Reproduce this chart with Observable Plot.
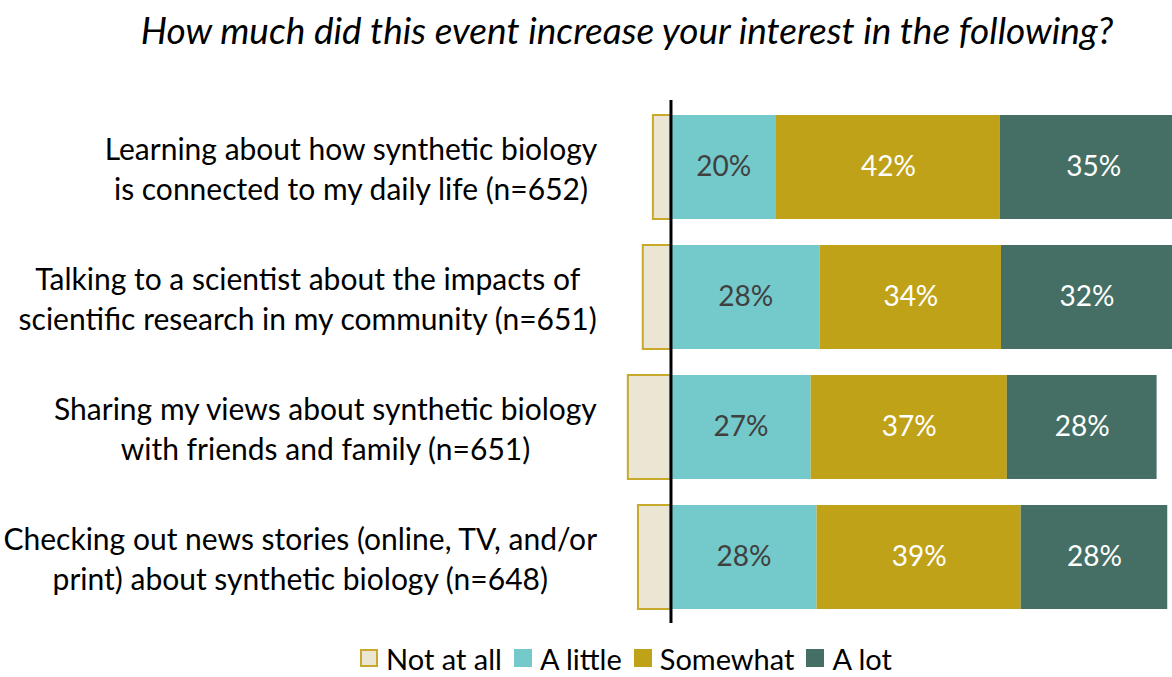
<!DOCTYPE html>
<html>
<head>
<meta charset="utf-8">
<script src="https://cdn.jsdelivr.net/npm/d3@7"></script>
<script src="https://cdn.jsdelivr.net/npm/@observablehq/plot@0.6"></script>
<style>
  html, body { margin: 0; padding: 0; background: #fff; }
  body { width: 1172px; height: 677px; overflow: hidden; font-family: Lato, sans-serif; }
  #title { height: 60px; box-sizing: border-box; padding-top: 10px; margin-left: 82px; width: 1090px;
           text-align: center; font-style: italic; font-size: 37px; line-height: 40px; color: #000; white-space: nowrap; }
  #legend { height: 26px; display: flex; align-items: center; justify-content: center;
            margin-left: 80px; width: 1092px; font-size: 29px; line-height: 29px; color: #000; }
  .item { display: flex; align-items: center; margin: 0 6px; }
  .sw { width: 18px; height: 18px; box-sizing: border-box; margin-right: 8px; }
</style>
</head>
<body>
<div id="title">How much did this event increase your interest in the following?</div>
<div id="chart"></div>
<div id="legend"></div>
<script>
const questions = [
  "Learning about how synthetic biology\nis connected to my daily life (n=652)",
  "Talking to a scientist about the impacts of\nscientific research in my community (n=651)",
  "Sharing my views about synthetic biology\nwith friends and family (n=651)",
  "Checking out news stories (online, TV, and/or\nprint) about synthetic biology (n=648)"
];
const responses = ["Not at all", "A little", "Somewhat", "A lot"];
const colors = ["#ebe5d4", "#74c9ca", "#bfa218", "#456f65"];
const notAtAll = [3.3, 5.2, 8.0, 6.1];
const aLittle  = [19.8, 28.0, 26.3, 27.4];
const somewhat = [42.0, 34.0, 36.8, 38.3];
const aLot     = [35.0, 32.1, 28.1, 27.5];
const aLittleLabels  = ["20%", "28%", "27%", "28%"];
const somewhatLabels = ["42%", "34%", "37%", "39%"];
const aLotLabels     = ["35%", "32%", "28%", "28%"];

const rows = [];
questions.forEach((q, i) => {
  rows.push({question: q, response: "Not at all", value: -notAtAll[i], label: ""});
  rows.push({question: q, response: "A little", value: aLittle[i], label: aLittleLabels[i]});
  rows.push({question: q, response: "Somewhat", value: somewhat[i], label: somewhatLabels[i]});
  rows.push({question: q, response: "A lot", value: aLot[i], label: aLotLabels[i]});
});
const negRows = rows.filter(d => d.response === "Not at all");
const posRows = rows.filter(d => d.response !== "Not at all");
const littleRows = rows.filter(d => d.response === "A little");

const catFont = 30;
const ctx = document.createElement("canvas").getContext("2d");
ctx.font = `${catFont}px Lato`;
const labelMarks = questions.map(q => {
  const w = d3.max(q.split("\n"), s => ctx.measureText(s).width);
  return Plot.text([q], {
    y: d => d, text: d => d, frameAnchor: "left", textAnchor: "middle",
    dx: -(23 + w / 2), fontSize: catFont, lineHeight: 1.33, fill: "#000"
  });
});

const chart = Plot.plot({
  width: 1172,
  height: 585,
  marginLeft: 620,
  marginRight: 0,
  marginTop: 40,
  marginBottom: 22,
  style: {fontFamily: "Lato, sans-serif", background: "#fff", overflow: "visible"},
  x: {domain: [-9.47, 94.09], axis: null},
  y: {domain: questions, paddingInner: 0.2, paddingOuter: 0.1, axis: null},
  color: {domain: responses, range: colors},
  marks: [
    Plot.barX(posRows, Plot.stackX({x: "value", y: "question", fill: "response", order: responses, clip: true})),
    Plot.barX(negRows, Plot.stackX({x: "value", y: "question", fill: "response", stroke: "#c8a92c", strokeWidth: 2, clip: true})),
    Plot.text(littleRows, Plot.stackX({x: "value", y: "question", text: "label", fill: "#404040", fontSize: 28})),
    Plot.text(posRows, Plot.stackX({x: "value", y: "question", z: "response", order: responses,
      text: d => d.response === "A little" ? "" : d.label, fill: "#fff", fontSize: 28})),
    Plot.ruleX([0], {stroke: "#000", strokeWidth: 3}),
    ...labelMarks
  ]
});
document.getElementById("chart").appendChild(chart);

const legend = document.getElementById("legend");
responses.forEach((r, i) => {
  const item = document.createElement("div");
  item.className = "item";
  const sw = document.createElement("div");
  sw.className = "sw";
  sw.style.background = colors[i];
  if (r === "Not at all") sw.style.border = "2px solid #c8a92c";
  const t = document.createElement("span");
  t.textContent = r;
  item.appendChild(sw);
  item.appendChild(t);
  legend.appendChild(item);
});
</script>
</body>
</html>
